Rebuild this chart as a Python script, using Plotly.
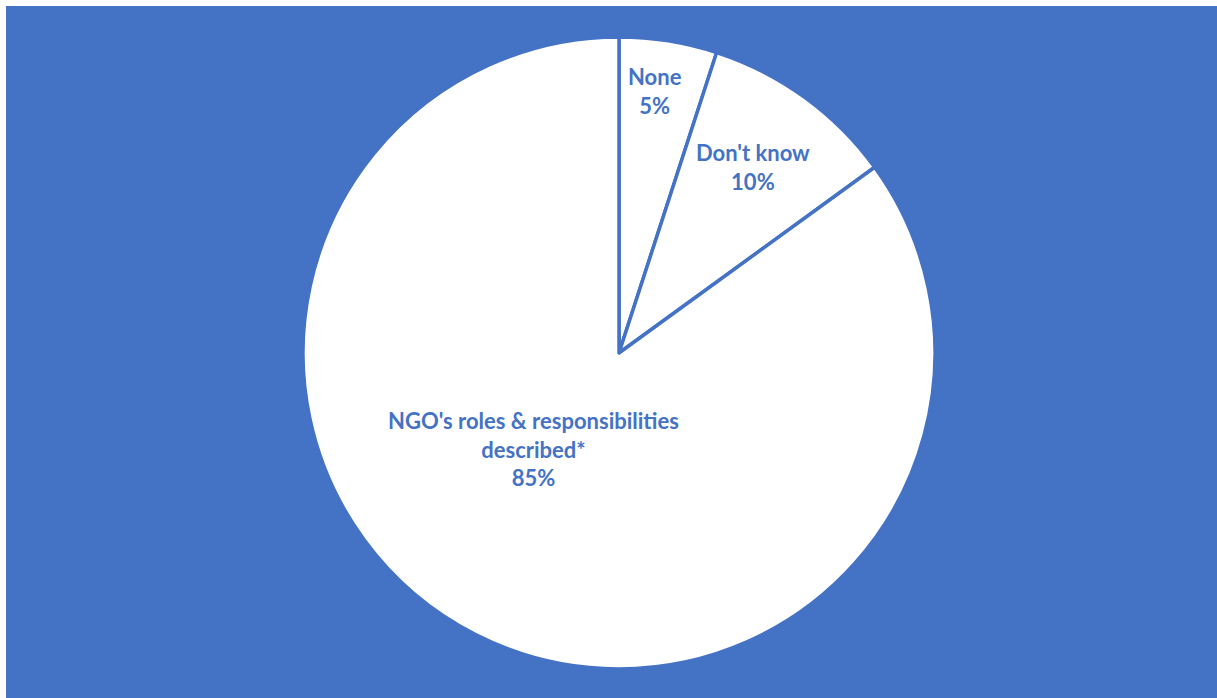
import plotly.graph_objects as go

# Survey responses
categories = ["None", "Don't know", "NGO's roles & responsibilities<br>described*"]
shares = [5, 10, 85]

BLUE = "#4472C4"
W, H = 1217, 698

fig = go.Figure(
    go.Pie(
        labels=categories,
        values=shares,
        sort=False,
        direction="clockwise",
        rotation=0,
        marker=dict(colors=["white"] * len(shares), line=dict(color=BLUE, width=3.5)),
        textinfo="none",
        hoverinfo="label+percent",
        domain=dict(x=[303 / W, 935 / W], y=[1 - 669 / H, 1 - 37 / H]),
        showlegend=False,
    )
)

# Slice labels (category name + share), centred on each point
label_pos = [(655, 91), (753, 167), (533, 449)]
annotations = []
for name, val, (px, py) in zip(categories, shares, label_pos):
    annotations.append(
        dict(
            x=px / W, y=1 - py / H, xref="paper", yref="paper",
            xanchor="center", yanchor="middle",
            text=f"<b>{name}<br>{val}%</b>",
            showarrow=False, align="center",
            font=dict(family="Lato, Open Sans, sans-serif", size=22, color=BLUE),
        )
    )

fig.update_layout(
    width=W, height=H,
    margin=dict(l=0, r=0, t=0, b=0),
    paper_bgcolor=BLUE,
    annotations=annotations,
    shapes=[
        dict(type="rect", xref="paper", yref="paper", x0=0, x1=1, y0=1 - 6 / H, y1=1,
             fillcolor="white", line=dict(width=0)),
        dict(type="rect", xref="paper", yref="paper", x0=0, x1=6 / W, y0=0, y1=1,
             fillcolor="white", line=dict(width=0)),
    ],
)

fig.write_html("out.html")
